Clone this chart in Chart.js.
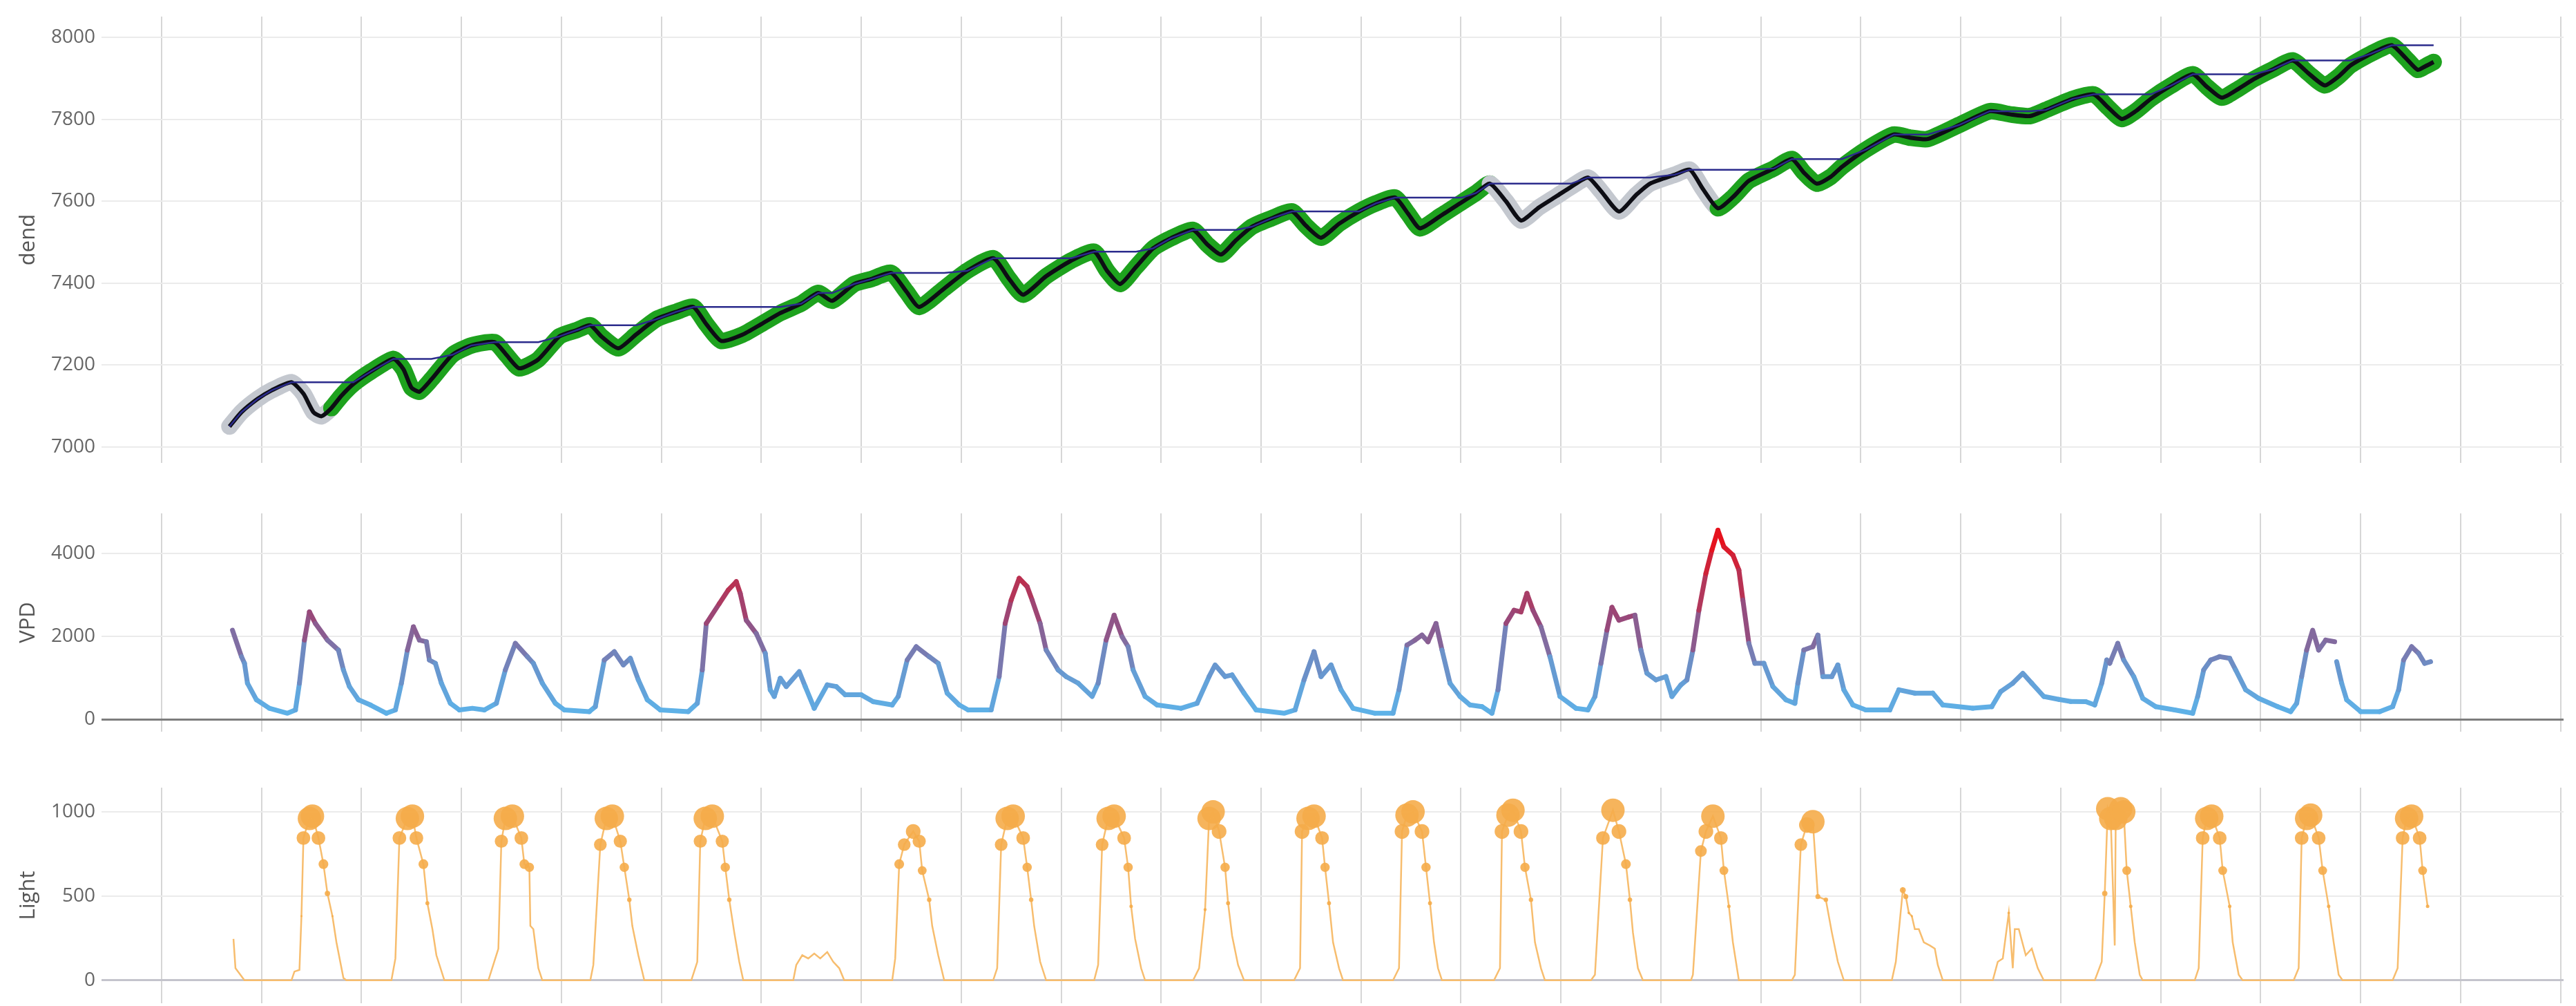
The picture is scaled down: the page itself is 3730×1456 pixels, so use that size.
<!DOCTYPE html>
<html>
<head>
<meta charset="utf-8">
<script src="https://cdn.jsdelivr.net/npm/chart.js@4.4.1/dist/chart.umd.min.js"></script>
<style>
  body { margin: 0; background: #fff; width: 3730px; height: 1456px; overflow: hidden; position: relative; }
  canvas { position: absolute; left: 0; }
</style>
</head>
<body>
<canvas id="dendChart" width="3730" height="646" style="top:24px"></canvas>
<canvas id="vpdChart" width="3730" height="316" style="top:743px"></canvas>
<canvas id="lightChart" width="3730" height="320" style="top:1136px"></canvas>
<script>
// x axis: days, one grid line per day
const dayGrid = [0,1,2,3,4,5,6,7,8,9,10,11,12,13,14,15,16,17,18,19,20,21,22,23,24];
const dendTicks = [7000, 7200, 7400, 7600, 7800, 8000];
const vpdTicks = [0, 2000, 4000];
const lightTicks = [0, 500, 1000];

// dendrometer trace
const dendDays = [
  0.68,0.80,0.96,1.10,1.30,1.42,1.52,1.60,1.70,1.80,
  1.92,2.10,2.32,2.42,2.50,2.58,2.70,2.91,3.10,3.33,
  3.45,3.58,3.77,3.98,4.15,4.29,4.40,4.57,4.75,4.95,
  5.15,5.32,5.45,5.60,5.81,6.00,6.19,6.40,6.57,6.71,
  6.93,7.10,7.30,7.45,7.58,7.83,8.06,8.32,8.48,8.62,
  8.85,9.10,9.33,9.46,9.59,9.75,9.92,10.10,10.32,10.46,
  10.60,10.75,10.91,11.10,11.31,11.45,11.60,11.78,11.98,12.15,
  12.34,12.47,12.59,12.80,13.01,13.15,13.29,13.45,13.60,13.78,
  13.96,14.10,14.27,14.40,14.58,14.75,14.89,15.14,15.29,15.42,
  15.57,15.72,15.88,16.13,16.31,16.43,16.56,16.70,16.81,17.05,
  17.33,17.50,17.67,17.98,18.29,18.50,18.69,18.85,19.12,19.33,
  19.47,19.61,19.75,19.90,20.10,20.32,20.46,20.61,20.78,20.93,
  21.12,21.32,21.48,21.64,21.78,21.90,22.10,22.31,22.45,22.57,
  22.65,22.73
];
const dendValues = [
  7050,7085,7117,7138,7158,7130,7085,7075,7095,7125,
  7154,7185,7215,7190,7145,7135,7165,7225,7248,7256,
  7225,7192,7214,7270,7285,7297,7270,7241,7275,7312,
  7330,7342,7300,7259,7274,7300,7327,7350,7376,7357,
  7398,7410,7425,7380,7342,7387,7430,7461,7410,7372,
  7417,7455,7477,7430,7398,7440,7485,7510,7530,7495,
  7470,7505,7538,7558,7575,7540,7511,7545,7575,7595,
  7609,7570,7534,7565,7598,7620,7643,7600,7553,7585,
  7613,7635,7658,7625,7575,7615,7643,7665,7677,7630,
  7583,7610,7650,7680,7703,7670,7643,7660,7684,7726,
  7763,7755,7752,7786,7820,7812,7808,7823,7850,7861,
  7830,7801,7820,7850,7882,7910,7880,7853,7875,7898,
  7922,7944,7912,7883,7905,7932,7960,7981,7950,7921,
  7930,7940
];
// stretches drawn with a grey halo instead of green
const greyStretches = [[0.5, 1.62], [13.17, 15.45]];

const vpdDays = [
  0.71,0.80,0.83,0.86,0.95,1.08,1.26,1.34,1.38,1.43,
  1.48,1.54,1.66,1.77,1.82,1.88,1.97,2.09,2.25,2.34,
  2.40,2.46,2.52,2.58,2.65,2.68,2.74,2.80,2.89,2.98,
  3.11,3.23,3.35,3.44,3.54,3.66,3.72,3.81,3.94,4.03,
  4.28,4.34,4.43,4.53,4.62,4.69,4.77,4.86,4.99,5.27,
  5.36,5.41,5.45,5.58,5.67,5.75,5.79,5.85,5.95,6.04,
  6.09,6.13,6.19,6.25,6.38,6.44,6.53,6.66,6.75,6.84,
  7.00,7.12,7.31,7.37,7.46,7.55,7.68,7.77,7.86,7.98,
  8.07,8.30,8.38,8.44,8.50,8.58,8.66,8.71,8.79,8.85,
  8.97,9.05,9.17,9.31,9.37,9.45,9.53,9.61,9.67,9.72,
  9.84,9.96,10.20,10.36,10.48,10.54,10.64,10.71,10.83,10.95,
  11.23,11.34,11.43,11.53,11.60,11.70,11.80,11.92,12.14,12.32,
  12.38,12.46,12.54,12.61,12.67,12.75,12.81,12.89,12.99,13.09,
  13.21,13.31,13.37,13.45,13.53,13.60,13.66,13.72,13.80,13.89,
  13.99,14.15,14.27,14.34,14.40,14.46,14.51,14.58,14.68,14.74,
  14.80,14.86,14.95,15.05,15.11,15.20,15.26,15.32,15.38,15.45,
  15.51,15.57,15.63,15.72,15.78,15.82,15.88,15.94,16.03,16.12,
  16.25,16.34,16.37,16.43,16.52,16.57,16.62,16.71,16.77,16.83,
  16.92,17.05,17.29,17.38,17.54,17.72,17.82,18.12,18.31,18.40,
  18.52,18.62,18.71,18.83,18.98,19.10,19.25,19.34,19.41,19.46,
  19.49,19.57,19.63,19.73,19.82,19.95,20.14,20.32,20.37,20.43,
  20.50,20.59,20.69,20.75,20.85,20.98,21.17,21.30,21.36,21.41,
  21.46,21.52,21.58,21.65,21.74,21.75,21.76,21.81,21.86,22.00,
  22.19,22.32,22.38,22.43,22.51,22.58,22.64,22.70
];
const vpdValues = [
  2150,1510,1350,870,470,265,145,225,870,1910,
  2590,2310,1910,1670,1190,790,470,345,145,225,
  870,1670,2230,1910,1870,1430,1350,870,385,225,
  265,225,385,1190,1830,1510,1350,870,385,225,
  185,305,1430,1630,1310,1470,950,470,225,185,
  385,1190,2310,2790,3120,3320,3035,2390,2070,1590,
  710,550,990,790,1150,790,265,830,790,590,
  590,425,345,550,1430,1750,1510,1350,630,345,
  225,225,1030,2310,2875,3400,3200,2875,2310,1670,
  1190,1030,870,550,870,1910,2510,1990,1750,1190,
  550,345,265,385,1030,1310,1030,1070,630,225,
  145,225,950,1630,1030,1310,710,265,145,145,
  710,1790,1910,2030,1870,2310,1670,870,550,345,
  305,145,710,2310,2630,2590,3035,2630,2230,1510,
  550,265,225,550,1350,2150,2700,2390,2470,2510,
  1670,1110,950,1030,550,830,950,1670,2630,3520,
  4080,4560,4160,3960,3600,2875,1830,1350,1350,790,
  470,385,870,1670,1750,2030,1030,1030,1310,710,
  345,225,225,710,630,630,345,265,305,670,
  870,1110,870,550,480,430,425,345,870,1430,
  1350,1830,1430,1030,505,305,225,145,550,1190,
  1430,1510,1470,1190,710,505,305,185,385,1030,
  1670,2150,1670,1910,1870,null,1390,870,470,185,
  185,305,710,1430,1750,1590,1350,1390
];

const lightDays = [
  0.72,0.74,0.83,1.30,1.33,1.38,1.40,1.42,1.48,1.51,
  1.57,1.62,1.66,1.71,1.75,1.82,1.85,2.30,2.34,2.38,
  2.46,2.51,2.55,2.62,2.66,2.71,2.75,2.83,3.27,3.37,
  3.40,3.44,3.51,3.60,3.63,3.68,3.69,3.72,3.77,3.81,
  4.29,4.32,4.39,4.45,4.51,4.59,4.63,4.68,4.71,4.77,
  4.83,5.30,5.36,5.39,5.44,5.51,5.61,5.64,5.68,5.73,
  5.78,5.82,6.32,6.35,6.41,6.47,6.53,6.59,6.66,6.72,
  6.78,6.83,7.31,7.34,7.38,7.43,7.52,7.58,7.61,7.68,
  7.71,7.77,7.83,8.32,8.36,8.40,8.46,8.52,8.62,8.66,
  8.70,8.73,8.79,8.85,9.33,9.37,9.41,9.47,9.53,9.63,
  9.67,9.70,9.74,9.80,9.84,10.32,10.38,10.44,10.48,10.52,
  10.58,10.64,10.67,10.71,10.77,10.83,11.33,11.39,11.41,11.47,
  11.53,11.61,11.64,11.68,11.72,11.78,11.82,12.32,12.38,12.41,
  12.46,12.52,12.61,12.65,12.69,12.73,12.77,12.81,13.33,13.39,
  13.41,13.47,13.52,13.60,13.64,13.70,13.74,13.80,13.84,14.30,
  14.34,14.42,14.52,14.58,14.65,14.69,14.72,14.77,14.82,15.30,
  15.32,15.40,15.45,15.52,15.60,15.63,15.68,15.72,15.78,16.31,
  16.34,16.40,16.46,16.52,16.57,16.65,16.71,16.77,16.83,17.31,
  17.35,17.42,17.45,17.48,17.51,17.54,17.58,17.63,17.69,17.74,
  17.77,17.82,18.32,18.37,18.42,18.48,18.52,18.54,18.58,18.65,
  18.71,18.77,18.83,19.34,19.41,19.44,19.47,19.50,19.54,19.55,
  19.60,19.63,19.66,19.70,19.74,19.79,19.82,20.34,20.38,20.42,
  20.46,20.51,20.59,20.62,20.69,20.72,20.78,20.82,21.33,21.38,
  21.41,21.46,21.50,21.58,21.62,21.68,21.73,21.78,21.82,22.32,
  22.37,22.42,22.46,22.51,22.59,22.62,22.67
];
const lightValues = [
  246,72,0,0,52,62,381,845,961,975,
  845,690,516,381,226,14,0,0,130,845,
  961,975,845,690,458,304,149,0,0,188,
  826,961,975,845,690,671,323,304,72,0,
  0,91,806,961,975,826,671,478,323,149,
  0,0,110,826,961,975,826,671,478,284,
  110,0,0,91,149,130,159,130,168,110,
  72,0,0,130,690,806,884,826,652,478,
  323,149,0,0,72,806,961,975,845,671,
  478,323,110,0,0,91,806,961,975,845,
  671,439,246,72,0,0,72,420,961,1000,
  884,671,458,265,91,0,0,72,884,961,
  975,845,671,458,226,72,0,0,72,884,
  981,1000,884,671,458,226,72,0,0,72,
  884,981,1010,884,671,478,226,72,0,0,
  33,845,1010,884,690,478,284,72,0,0,
  33,768,884,975,845,652,439,226,0,0,
  33,806,922,942,497,478,284,110,0,0,
  110,536,497,400,381,304,304,226,207,188,
  91,0,0,110,130,400,72,304,304,149,
  188,72,0,0,110,516,1019,961,207,961,
  1019,1000,652,439,226,33,0,0,72,845,
  961,975,845,652,439,226,33,0,0,72,
  845,961,981,845,652,439,226,33,0,0,
  72,845,961,975,845,652,439
];

Chart.defaults.font.family = "'Open Sans', sans-serif";

const toPoints = (xs, ys) => xs.map((x, i) => ({ x, y: ys[i] }));

// running maximum of the dendrometer trace
let highest = -Infinity;
const dendMax = dendValues.map(v => (highest = Math.max(highest, v)));

function inGrey(x) {
  return greyStretches.some(([a, b]) => x >= a && x < b);
}

function vpdColour(v) {
  const stops = [
    [0, [92, 182, 236]],
    [1200, [104, 150, 206]],
    [2400, [150, 74, 124]],
    [4500, [236, 14, 22]],
  ];
  if (v <= stops[0][0]) return `rgb(${stops[0][1].join(",")})`;
  for (let i = 1; i < stops.length; i++) {
    if (v <= stops[i][0]) {
      const t = (v - stops[i - 1][0]) / (stops[i][0] - stops[i - 1][0]);
      const c = stops[i - 1][1].map((a, k) => Math.round(a + (stops[i][1][k] - a) * t));
      return `rgb(${c.join(",")})`;
    }
  }
  return `rgb(${stops[stops.length - 1][1].join(",")})`;
}

function lightRadius(v) {
  if (v >= 940) return 17;
  return v > 300 ? (v - 300) / 55 : 0;
}

const xScale = {
  type: "linear",
  min: -0.6,
  max: 24.03,
  afterBuildTicks: s => { s.ticks = dayGrid.map(v => ({ value: v })); },
  ticks: { display: false },
  grid: { color: "#d6d6d6", lineWidth: 2, drawTicks: false },
  border: { display: false },
};

function yScale(min, max, ticks, title, zeroColour) {
  return {
    min,
    max,
    afterBuildTicks: s => { s.ticks = ticks.map(v => ({ value: v })); },
    afterFit: s => { s.width = 147; s.paddingTop = 0; s.paddingBottom = 0; },
    ticks: { padding: 9, color: "#666", font: { size: 28 }, callback: v => String(v) },
    grid: {
      color: ctx => (zeroColour && ctx.tick && ctx.tick.value === 0) ? zeroColour : "#ebebeb",
      lineWidth: ctx => (zeroColour && ctx.tick && ctx.tick.value === 0) ? 3 : 2,
      drawTicks: false,
    },
    border: { display: false },
    title: { display: true, text: title, color: "#555", font: { size: 31 }, padding: { top: 23, bottom: 0 } },
  };
}

const baseOptions = (yOpts) => ({
  responsive: false,
  animation: false,
  events: [],
  layout: { padding: { left: 0, right: 18, top: 0, bottom: 0 } },
  plugins: { legend: { display: false }, tooltip: { enabled: false } },
  scales: { x: xScale, y: yOpts },
});

new Chart(document.getElementById("dendChart"), {
  type: "line",
  data: {
    datasets: [
      {
        label: "running max",
        data: toPoints(dendDays, dendMax),
        borderColor: "#2b2b8c",
        borderWidth: 2.5,
        pointRadius: 0,
        order: 0,
      },
      {
        label: "dend",
        data: toPoints(dendDays, dendValues),
        borderColor: "#0d0d14",
        borderWidth: 6,
        pointRadius: 0,
        tension: 0.2,
        borderJoinStyle: "round",
        order: 1,
      },
      {
        label: "phase",
        data: toPoints(dendDays, dendValues),
        borderWidth: 24,
        pointRadius: 0,
        tension: 0.2,
        borderCapStyle: "round",
        borderJoinStyle: "round",
        segment: { borderColor: ctx => inGrey(ctx.p0.parsed.x) ? "#c4c8cf" : "#1ea21e" },
        order: 2,
      },
    ],
  },
  options: baseOptions(yScale(6961, 8051, dendTicks, "dend", null)),
});

new Chart(document.getElementById("vpdChart"), {
  type: "line",
  data: {
    datasets: [{
      label: "VPD",
      data: toPoints(vpdDays, vpdValues),
      borderWidth: 7,
      pointRadius: 0,
      spanGaps: false,
      borderCapStyle: "round",
      borderJoinStyle: "round",
      segment: { borderColor: ctx => vpdColour((ctx.p0.parsed.y + ctx.p1.parsed.y) / 2) },
    }],
  },
  options: baseOptions(yScale(-300, 4967, vpdTicks, "VPD", "#7d7d7d")),
});

new Chart(document.getElementById("lightChart"), {
  type: "line",
  data: {
    datasets: [{
      label: "Light",
      data: toPoints(lightDays, lightValues),
      borderColor: "#f7bd6e",
      borderWidth: 2.5,
      pointRadius: ctx => lightRadius(ctx.raw.y),
      pointBackgroundColor: "rgba(245,172,74,0.9)",
      pointBorderWidth: 0,
    }],
  },
  options: baseOptions(yScale(-136, 1144, lightTicks, "Light", "#c4c4cc")),
});
</script>
</body>
</html>
